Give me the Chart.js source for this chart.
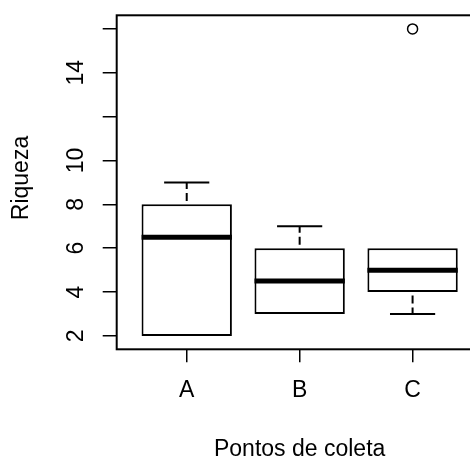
<!DOCTYPE html>
<html>
<head>
<meta charset="utf-8">
<script src="https://cdn.jsdelivr.net/npm/chart.js@4/dist/chart.umd.min.js"></script>
<style>
    body { margin: 0; background: #fff; }
    #wrap { width: 470px; height: 459px; overflow: hidden; }
</style>
</head>
<body>
<div id="wrap"><canvas id="myChart" width="490" height="459"></canvas></div>
<script>
"use strict";

const categories = ['A', 'B', 'C'];
const lowerWhisker = [2, 3, 3];
const q1 = [2, 3, 4];
const medians = [6.5, 4.5, 5];
const q3 = [8, 6, 6];
const upperWhisker = [9, 7, 6];
const outlierGroup = [3];
const outlierValue = [16];
const yTicks = [2, 4, 6, 8, 10, 12, 14, 16];
const yTickLabels = ['2', '4', '6', '8', '10', '', '14', ''];

const fontFamily = '"Liberation Sans", Arial, sans-serif';

function drawRotated(ctx, text, x, y) {
    ctx.save();
    ctx.translate(x, y);
    ctx.rotate(-Math.PI / 2);
    ctx.fillText(text, 0, 0);
    ctx.restore();
}

// whiskers, medians, frame and rotated labels
const boxplotParts = {
    id: 'boxplotParts',
    afterDatasetsDraw(chart) {
        const { ctx, chartArea, scales: { x, y } } = chart;
        ctx.save();
        ctx.strokeStyle = '#000';
        categories.forEach((cat, i) => {
            const cx = x.getPixelForValue(i + 1);
            [[upperWhisker[i], q3[i]], [lowerWhisker[i], q1[i]]].forEach(([end, edge]) => {
                if (end === edge) return;
                ctx.lineWidth = 2;
                ctx.setLineDash([8, 4]);
                ctx.lineDashOffset = 1.5;
                ctx.beginPath();
                ctx.moveTo(cx, y.getPixelForValue(end));
                ctx.lineTo(cx, y.getPixelForValue(edge));
                ctx.stroke();
                ctx.setLineDash([]);
                ctx.beginPath();
                ctx.moveTo(x.getPixelForValue(i + 0.8), y.getPixelForValue(end));
                ctx.lineTo(x.getPixelForValue(i + 1.2), y.getPixelForValue(end));
                ctx.stroke();
            });
            ctx.lineWidth = 5;
            ctx.beginPath();
            ctx.moveTo(x.getPixelForValue(i + 0.6), y.getPixelForValue(medians[i]));
            ctx.lineTo(x.getPixelForValue(i + 1.4), y.getPixelForValue(medians[i]));
            ctx.stroke();
        });
        ctx.lineWidth = 2;
        ctx.strokeRect(chartArea.left, chartArea.top, chartArea.right - chartArea.left, chartArea.bottom - chartArea.top);
        ctx.restore();
    },
    afterDraw(chart) {
        const { ctx, chartArea, scales: { y } } = chart;
        ctx.save();
        ctx.fillStyle = '#000';
        ctx.font = '23px ' + fontFamily;
        ctx.textAlign = 'center';
        ctx.textBaseline = 'alphabetic';
        yTicks.forEach((v, i) => {
            if (yTickLabels[i]) drawRotated(ctx, yTickLabels[i], 83.3, y.getPixelForValue(v));
        });
        drawRotated(ctx, 'Riqueza', 28.3, 178);
        ctx.fillText('Pontos de coleta', (chartArea.left + chartArea.right) / 2, 456);
        ctx.restore();
    }
};

new Chart(document.getElementById('myChart'), {
    type: 'bar',
    data: {
        datasets: [{
            label: 'Riqueza',
            data: categories.map((c, i) => ({ x: i + 1, y: [q1[i], q3[i]] })),
            backgroundColor: '#fff',
            borderColor: '#000',
            borderWidth: 2,
            borderSkipped: false,
            barPercentage: 0.8,
            categoryPercentage: 1
        }, {
            type: 'scatter',
            label: 'outliers',
            data: outlierGroup.map((g, i) => ({ x: g, y: outlierValue[i] })),
            pointRadius: 5,
            pointBorderWidth: 1.5,
            borderColor: '#000',
            backgroundColor: 'rgba(0,0,0,0)'
        }]
    },
    options: {
        responsive: false,
        devicePixelRatio: 1,
        animation: false,
        layout: { padding: { top: 15.3, right: 7.4, left: 0, bottom: 0 } },
        plugins: {
            legend: { display: false },
            tooltip: { enabled: false }
        },
        scales: {
            x: {
                type: 'linear',
                min: 0.38,
                max: 3.62,
                offset: false,
                afterBuildTicks: (s) => { s.ticks = categories.map((c, i) => ({ value: i + 1 })); },
                afterFit: (s) => { s.height = 459 - 349.3; },
                ticks: {
                    callback: (v) => categories[v - 1],
                    font: { family: fontFamily, size: 23 },
                    color: '#000',
                    padding: 15,
                    autoSkip: false,
                    maxRotation: 0
                },
                grid: { offset: false, drawOnChartArea: false, drawTicks: true, tickLength: 13, color: '#000', lineWidth: 1.5 },
                border: { display: false }
            },
            y: {
                type: 'linear',
                min: 1.39,
                max: 16.62,
                afterBuildTicks: (s) => { s.ticks = yTicks.map((v) => ({ value: v })); },
                afterFit: (s) => { s.width = 116.7; },
                ticks: { display: false },
                grid: { drawOnChartArea: false, drawTicks: true, tickLength: 14, color: '#000', lineWidth: 1.5 },
                border: { display: false }
            }
        }
    },
    plugins: [boxplotParts]
});
</script>
</body>
</html>
